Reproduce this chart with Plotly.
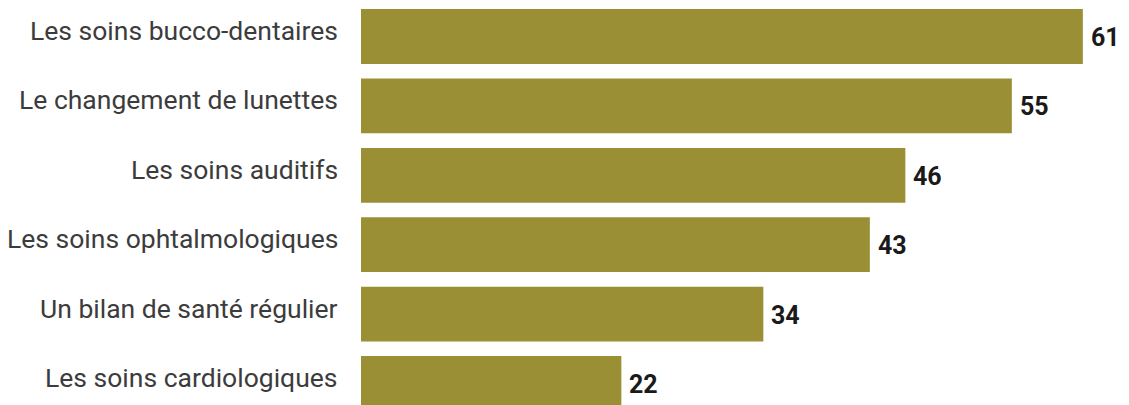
import plotly.graph_objects as go

categories = [
    "Les soins bucco-dentaires",
    "Le changement de lunettes",
    "Les soins auditifs",
    "Les soins ophtalmologiques",
    "Un bilan de santé régulier",
    "Les soins cardiologiques",
]
values = [61, 55, 46, 43, 34, 22]

BAR_COLOR = "#9a8f35"

fig = go.Figure(
    go.Bar(
        x=values,
        y=categories,
        orientation="h",
        marker=dict(color=BAR_COLOR, line=dict(width=0)),
        width=0.79,
        hoverinfo="skip",
    )
)

annotations = []
for cat, val in zip(categories, values):
    annotations.append(dict(
        x=0, xref="paper", y=cat, yref="y",
        text=cat, showarrow=False, xanchor="right", yanchor="middle",
        xshift=-21, yshift=6,
        font=dict(family="Roboto", size=26.5, color="#3c3c3c"),
    ))
    annotations.append(dict(
        x=val, xref="x", y=cat, yref="y",
        text=str(val), showarrow=False, xanchor="left", yanchor="middle",
        xshift=6, yshift=-1,
        font=dict(family="Roboto", size=25, color="#1a1a1a", weight="bold"),
    ))

fig.update_layout(
    width=1129, height=405,
    margin=dict(l=361, r=0, t=0, b=0),
    paper_bgcolor="white", plot_bgcolor="white",
    showlegend=False,
    annotations=annotations,
    xaxis=dict(range=[0, 64.9], visible=False, fixedrange=True),
    yaxis=dict(
        categoryorder="array", categoryarray=categories,
        range=[5.31, -0.526], showticklabels=False, showgrid=False,
        zeroline=False, fixedrange=True,
    ),
)

fig.write_html("out.html", config={"displayModeBar": False})
